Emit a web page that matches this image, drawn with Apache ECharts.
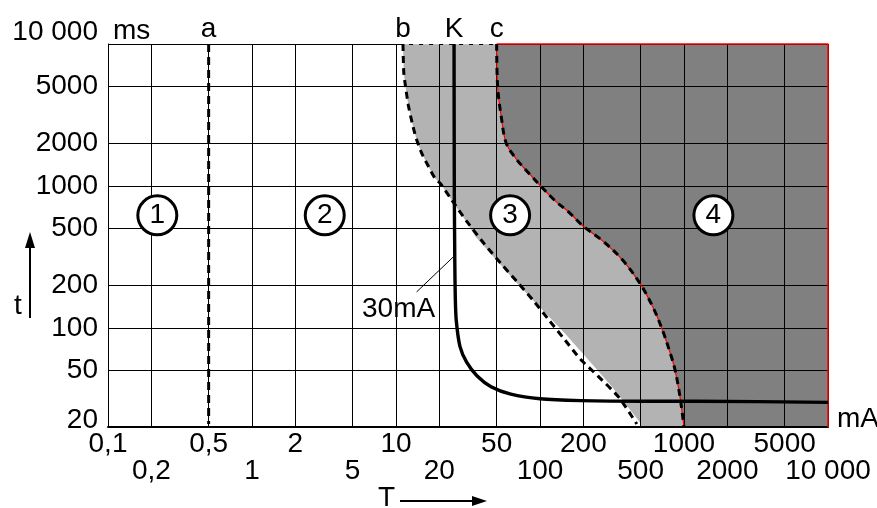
<!DOCTYPE html>
<html><head><meta charset="utf-8">
<script src="https://cdn.jsdelivr.net/npm/echarts@6/dist/echarts.min.js"></script>
<style>html,body{margin:0;padding:0;background:#fff}#c{width:877px;height:508px}</style>
</head><body><div id="c"></div>
<script>
// ---- axis ticks / labels ----
const xTicks = [0.1, 0.2, 0.5, 1, 2, 5, 10, 20, 50, 100, 200, 500, 1000, 2000, 5000, 10000];
const xTopLabels = [0.1, 0.5, 2, 10, 50, 200, 1000, 5000];
const xBottomLabels = [0.2, 1, 5, 20, 100, 500, 2000, 10000];
const yTicks = [20, 50, 100, 200, 500, 1000, 2000, 5000, 10000];

// ---- curves (current in mA, time in ms) ----
const curveA = [[0.5, 10000], [0.5, 21]];
const curveB = [[11.18, 10000], [11.33, 6240], [11.67, 4950], [12.17, 3720], [12.98, 2750], [13.84, 2150],
  [15.08, 1700], [16.78, 1375], [18.68, 1130], [20.4, 1036], [24.1, 809], [31, 563], [41, 391],
  [53.7, 283], [69.4, 211], [89.7, 156], [115.7, 113], [148.6, 82.4], [191, 60.1], [252, 45.8],
  [354, 32.2], [470, 21]];
const zone3Edge = [[11.18, 10000], [11.33, 6240], [11.67, 4950], [12.17, 3720], [12.98, 2750], [13.84, 2150],
  [15.08, 1700], [16.78, 1375], [18.68, 1130], [20.4, 1036], [24.1, 809], [30.6, 563], [35.6, 440],
  [49.8, 300], [69.4, 205], [104.6, 133], [148.6, 91.4], [225, 57], [316, 38.5], [497, 21.4], [505, 20]];
const curveC = [[50, 10000], [50.8, 5000], [53.9, 3040], [58.3, 2000], [68, 1560], [80.6, 1280], [100, 1010],
  [127, 788], [157, 660], [200, 520], [276, 405], [375, 300], [497, 204], [608, 140], [707, 97],
  [801, 66.7], [863, 51.4], [932, 34.1], [1000, 20]];
const curveK = [[25.3, 10000], [25.4, 1000], [25.6, 300], [25.8, 165], [26.2, 113], [27.8, 74], [31, 57],
  [36.6, 45.8], [45.7, 38.5], [62.7, 34.1], [100, 31.6], [191, 30.7], [520, 30.4], [1244, 30.4], [10000, 29.8]];
const zoneCorners = [[10000, 20], [10000, 10000]];
const zoneMarks = [[0.22, 620, '1'], [3.2, 620, '2'], [62, 620, '3'], [1600, 620, '4']];
const curveNames = [[0.5, 10000, 'a'], [11.2, 10000, 'b'], [25.3, 10000, 'K'], [50, 10000, 'c']];
const leader30 = [[13.9, 179], [25, 316]];
const leaderText = [[13.9, 179, '30mA']];
const topWhiteEdge = [[11.2, 10000], [50, 10000]];
const redEdge = [[50, 10000], [10000, 10000], [10000, 20]];

const FONT = 'Liberation Sans';
const fmt = v => v === 10000 ? '10 000' : String(v).replace('.', ',');

function zone(points, color) {
  return {
    type: 'custom', z: 1, silent: true, data: [[1, 100]], animation: false,
    renderItem: (params, api) => ({
      type: 'polygon',
      shape: { points: points.map(p => api.coord(p)) },
      style: { fill: color }
    })
  };
}
function line(data, color, width, dash, z, smooth, clip) {
  return {
    type: 'line', data: data, z: z, silent: true, showSymbol: false, symbol: 'none',
    smooth: smooth || false, clip: clip !== false, animation: false,
    lineStyle: { color: color, width: width, type: dash || 'solid', opacity: 1 }
  };
}

const chart = echarts.init(document.getElementById('c'));
chart.setOption({
  animation: false,
  backgroundColor: '#fff',
  grid: { left: 108, right: 49, top: 44, bottom: 81 },
  xAxis: [{
    type: 'log', min: 0.1, max: 10000, z: 3,
    axisLine: { show: true, lineStyle: { color: '#000', width: 2 } },
    axisTick: { show: false, customValues: xTicks },
    splitLine: { show: true, lineStyle: { color: '#000', width: 1 } },
    axisLabel: { customValues: xTopLabels, formatter: fmt, margin: 3, color: '#000',
      fontFamily: FONT, fontSize: 28 }
  }, {
    type: 'log', min: 0.1, max: 10000, position: 'bottom', offset: 27, z: 3,
    axisLine: { show: false }, axisTick: { show: false, customValues: xBottomLabels },
    splitLine: { show: false },
    axisLabel: { customValues: xBottomLabels, formatter: fmt, margin: 3, color: '#000',
      fontFamily: FONT, fontSize: 28 }
  }],
  yAxis: {
    type: 'log', min: 20, max: 10000, z: 3,
    axisLine: { show: true, lineStyle: { color: '#000', width: 1 } },
    axisTick: { show: false, customValues: yTicks },
    splitLine: { show: true, lineStyle: { color: '#000', width: 1 } },
    axisLabel: {
      customValues: yTicks, margin: 10, color: '#000', fontFamily: FONT, fontSize: 28,
      formatter: v => v === 10000 ? '{up|10 000}' : (v === 20 ? '{low|20}' : String(v)),
      rich: {
        up: { padding: [0, 0, 24, 0], fontFamily: FONT, fontSize: 28, color: '#000' },
        low: { padding: [0, 0, 14, 0], fontFamily: FONT, fontSize: 28, color: '#000' }
      }
    }
  },
  graphic: [
    { type: 'text', left: 113, top: 17, style: { text: 'ms', font: '28px "Liberation Sans"', fill: '#000' } },
    { type: 'text', left: 837, top: 405, style: { text: 'mA', font: '28px "Liberation Sans"', fill: '#000' } },
    { type: 'text', left: 14, top: 292, style: { text: 't', font: '28px "Liberation Sans"', fill: '#000' } },
    { type: 'line', shape: { x1: 30, y1: 318, x2: 30, y2: 244 }, style: { stroke: '#000', lineWidth: 2 } },
    { type: 'polygon', shape: { points: [[30, 232], [25, 248], [35, 248]] }, style: { fill: '#000' } },
    { type: 'text', left: 378, top: 484, style: { text: 'T', font: '28px "Liberation Sans"', fill: '#000' } },
    { type: 'line', shape: { x1: 400, y1: 501, x2: 476, y2: 501 }, style: { stroke: '#000', lineWidth: 2 } },
    { type: 'polygon', shape: { points: [[487, 501], [472, 496], [472, 506]] }, style: { fill: '#000' } }
  ],
  series: [
    zone(zone3Edge.concat(zoneCorners), '#b3b3b3'),
    zone(curveC.concat(zoneCorners), '#808080'),
    line(topWhiteEdge, '#fff', 1.5, [6, 4], 5, false, false),
    line(redEdge, '#ff0000', 1.5, 'solid', 5, false, false),
    line(curveC, '#ff0000', 1.2, 'solid', 6, 0.35),
    line(curveA, '#000', 3, [8, 5], 7),
    line(curveB, '#000', 3, [7, 5], 7, 0.25),
    line(curveC, '#000', 3, [7, 5], 7, 0.35),
    line(curveK, '#000', 3.4, 'solid', 8, 0.25),
    line(leader30, '#000', 1, 'solid', 8),
    {
      type: 'scatter', data: leaderText, z: 9, silent: true, symbolSize: 0, animation: false,
      itemStyle: { color: '#000', opacity: 1 },
      label: { show: true, position: 'bottom', distance: 0, offset: [-18, 3], formatter: p => p.data[2],
        fontFamily: FONT, fontSize: 28, color: '#000' }
    },
    {
      type: 'scatter', data: curveNames, z: 9, silent: true, symbolSize: 0, animation: false,
      itemStyle: { color: '#000', opacity: 1 },
      label: { show: true, position: 'top', distance: 1, formatter: p => p.data[2],
        fontFamily: FONT, fontSize: 28, color: '#000' }
    },
    {
      type: 'scatter', data: zoneMarks, z: 9, silent: true, symbol: 'circle', symbolSize: 39, animation: false,
      itemStyle: { color: '#fff', borderColor: '#000', borderWidth: 3, opacity: 1 },
      label: { show: true, position: 'inside', formatter: p => p.data[2],
        fontFamily: FONT, fontSize: 28, color: '#000' }
    }
  ]
});
</script>
</body></html>
